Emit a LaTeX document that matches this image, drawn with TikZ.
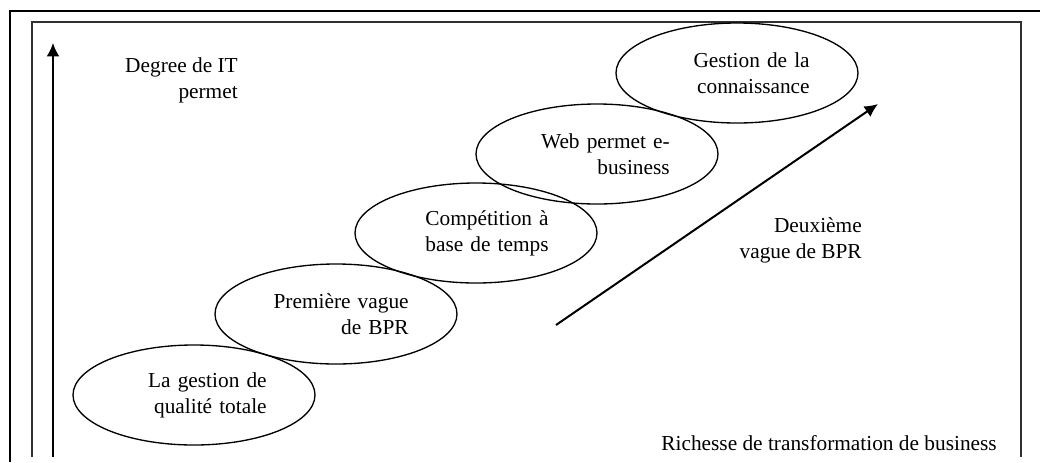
\documentclass[tikz,border=0pt]{standalone}
\usepackage{fontspec}
\setmainfont{Liberation Serif}
\usepackage{xcolor}
\usepackage{tikz}
\usetikzlibrary{shapes.geometric,arrows.meta}
\definecolor{framecolor}{HTML}{303030}

\begin{document}
\begin{tikzpicture}[
    x=0.75pt, y=-0.75pt,
    >={Latex[length=10pt,width=9.5pt]},
    every node/.style={font=\fontsize{16}{19.5}\selectfont, inner sep=0pt},
    phase/.style={ellipse, draw, line width=1pt,
                  minimum width=181.5pt, minimum height=75pt,
                  text width=109pt, align=right}
]
\useasboundingbox (0,0) rectangle (1040,462);

% frames
\draw[line width=1.5pt] (10,462) -- (10,11) -- (1040,11);
\draw[line width=0.8pt, framecolor] (32,457) -- (32,22) -- (1021,22) -- (1021,457);

% stairs
\node[phase] (qualite) at (194,395) {La gestion de\\ qualité totale};
\node[phase] (bprone) at (336,314) {Première vague\\ de BPR};
\node[phase] (competition) at (476,233) {Compétition à\\ base de temps};
\node[phase] (web) at (597,154) {Web permet e-\\ business};
\node[phase] (connaissance) at (737,73) {Gestion de la\\ connaissance};

% axes
\coordinate (axisbottom) at (53,457);
\coordinate (axistop) at (53,43);
\draw[->, line width=1.1pt] (axisbottom) -- (axistop);
\node[anchor=east, align=right] (ylabel) at (238,80) {Degree de IT\\ permet};
\node[anchor=east] (xlabel) at (997,443) {Richesse de transformation de business};

\coordinate (wavestart) at (556,325);
\coordinate (waveend) at (878,104);
\draw[->, line width=1.5pt] (wavestart) -- (waveend);
\node[anchor=east, align=right] (bprtwo) at (862,240) {Deuxième\\ vague de BPR};
\end{tikzpicture}
\end{document}
